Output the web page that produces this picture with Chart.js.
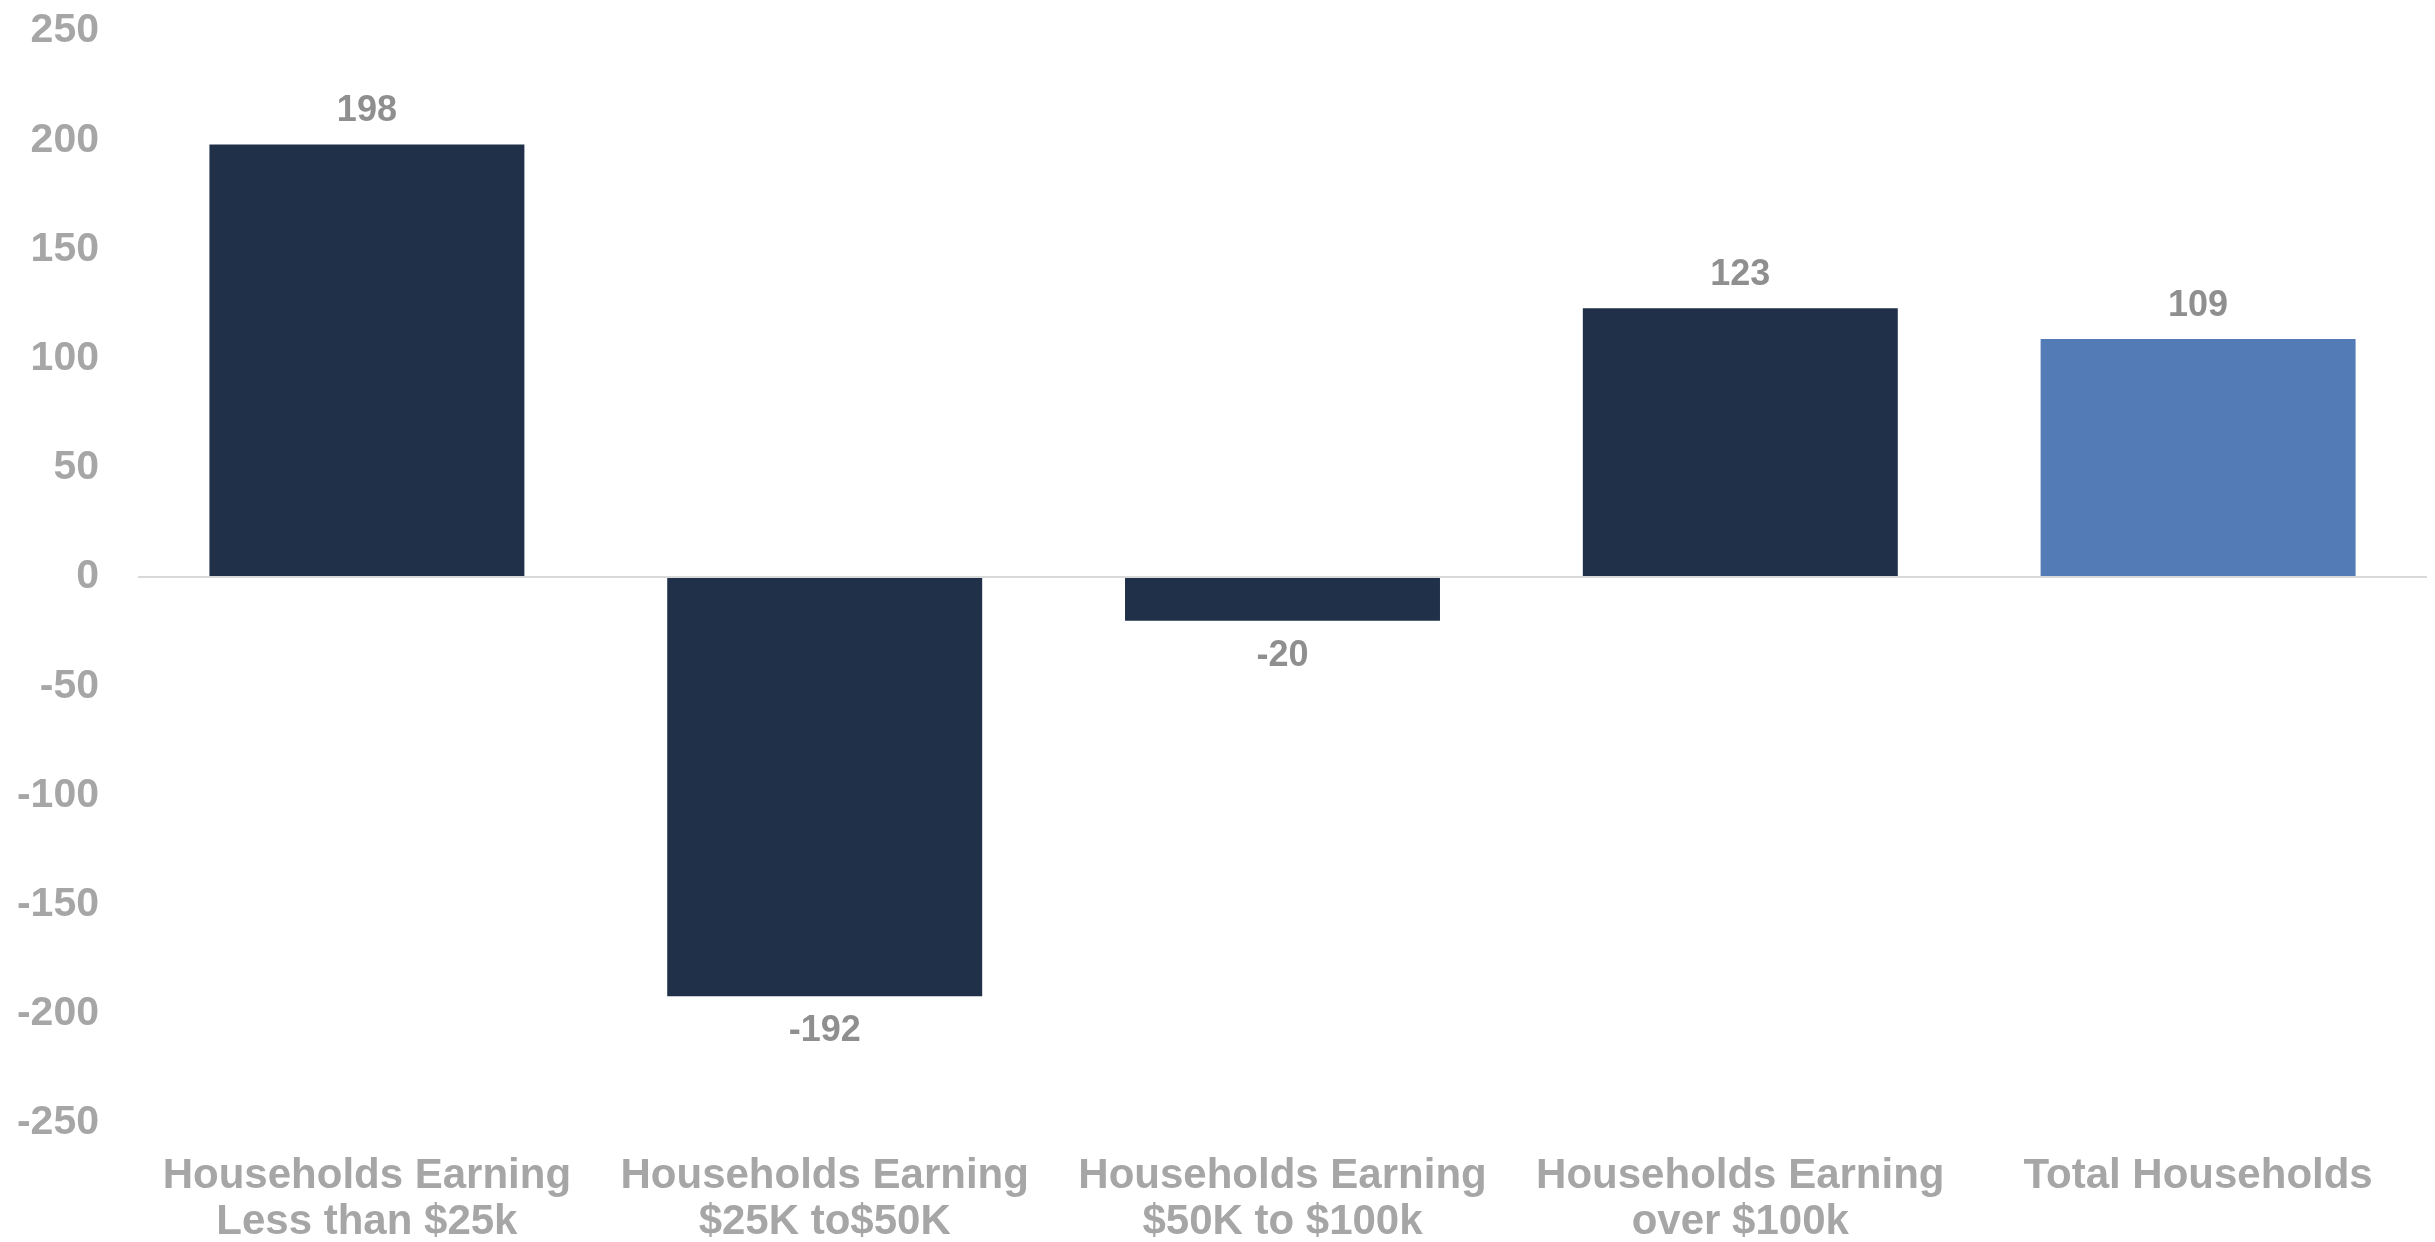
<!DOCTYPE html>
<html>
<head>
<meta charset="utf-8">
<title>Household change by income</title>
<script src="https://cdn.jsdelivr.net/npm/chart.js@4.4.1/dist/chart.umd.min.js"></script>
<style>
  html, body { margin: 0; padding: 0; background: #ffffff; }
  #wrap { width: 2435px; height: 1242px; }
</style>
</head>
<body>
<div id="wrap"><canvas id="chart" width="2435" height="1242"></canvas></div>
<script>
// data
const categories = [
  ['Households Earning', 'Less than $25k'],
  ['Households Earning', '$25K to$50K'],
  ['Households Earning', '$50K to $100k'],
  ['Households Earning', 'over $100k'],
  'Total Households'
];
const values = [198, -192, -20, 123, 109];
const barColors = ['#203048', '#203048', '#203048', '#203048', '#537BB6'];
const yTicks = [250, 200, 150, 100, 50, 0, -50, -100, -150, -200, -250];

const FONT = "'Liberation Sans', Arial, sans-serif";

// simple value labels above / below each bar
const valueLabels = {
  id: 'valueLabels',
  afterDatasetsDraw(chart) {
    const ctx = chart.ctx;
    const meta = chart.getDatasetMeta(0);
    ctx.save();
    ctx.font = 'bold 36px ' + FONT;
    ctx.fillStyle = '#8f8f8f';
    ctx.textAlign = 'center';
    ctx.textBaseline = 'middle';
    meta.data.forEach((bar, i) => {
      const v = values[i];
      const y = v >= 0 ? bar.y - 33 : bar.y + 35;
      ctx.fillText(String(v), bar.x, y);
    });
    ctx.restore();
  }
};

new Chart(document.getElementById('chart'), {
  type: 'bar',
  data: {
    labels: categories,
    datasets: [{
      data: values,
      backgroundColor: barColors,
      borderWidth: 0,
      categoryPercentage: 1,
      barPercentage: 0.688
    }]
  },
  options: {
    responsive: false,
    animation: false,
    devicePixelRatio: 1,
    layout: { padding: { top: 31, right: 8, left: 0, bottom: 0 } },
    plugins: {
      legend: { display: false },
      tooltip: { enabled: false }
    },
    scales: {
      x: {
        grid: { display: false, drawTicks: false },
        border: { display: false },
        ticks: {
          color: '#a6a6a6',
          font: { family: FONT, size: 42, weight: 'bold', lineHeight: 1.1 },
          padding: 30,
          maxRotation: 0,
          autoSkip: false
        },
        afterFit(scale) { scale.height = 119; }
      },
      y: {
        min: -250,
        max: 250,
        afterBuildTicks(scale) {
          scale.ticks = yTicks.map(v => ({ value: v }));
        },
        grid: {
          drawTicks: false,
          lineWidth: 2,
          color: (c) => (c.tick && c.tick.value === 0 ? '#d9d9d9' : 'rgba(0,0,0,0)')
        },
        border: { display: false },
        ticks: {
          color: '#a6a6a6',
          font: { family: FONT, size: 41, weight: 'bold' },
          padding: 39
        },
        afterFit(scale) {
          scale.width = 138;
          scale.paddingTop = 0;
          scale.paddingBottom = 0;
        }
      }
    }
  },
  plugins: [valueLabels]
});
</script>
</body>
</html>
